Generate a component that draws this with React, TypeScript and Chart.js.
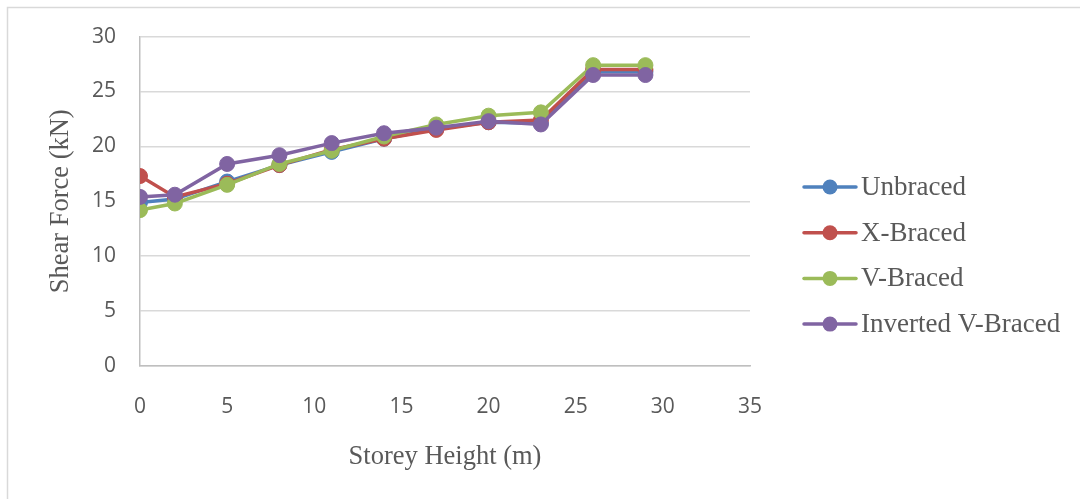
import React, { useEffect, useRef } from "react";
import { Chart, registerables } from "chart.js";

Chart.register(...registerables);

// Storey heights (m) and shear force (kN) for each bracing system
const storeyHeights = [0, 2, 5, 8, 11, 14, 17, 20, 23, 26, 29];
const unbraced = [14.9, 15.2, 16.8, 18.3, 19.5, 20.7, 21.6, 22.2, 22.1, 26.8, 26.8];
const xBraced = [17.3, 15.4, 16.6, 18.3, 19.7, 20.7, 21.5, 22.2, 22.4, 27.0, 27.0];
const vBraced = [14.2, 14.8, 16.5, 18.4, 19.6, 20.9, 22.0, 22.8, 23.1, 27.4, 27.4];
const invertedVBraced = [15.4, 15.6, 18.4, 19.2, 20.3, 21.2, 21.7, 22.3, 22.0, 26.5, 26.5];

const seriesNames = ["Unbraced", "X-Braced", "V-Braced", "Inverted V-Braced"];
const seriesColors = ["#4f81bd", "#c0504d", "#9bbb59", "#8064a2"];
const seriesValues = [unbraced, xBraced, vBraced, invertedVBraced];

const xTickValues = [0, 5, 10, 15, 20, 25, 30, 35];
const yTickValues = [0, 5, 10, 15, 20, 25, 30];

const textColor = "#595959";
const serif = "'Liberation Serif', 'Times New Roman', serif";
const sans = "'Open Sans', 'Noto Sans', sans-serif";

// Light frame around the whole chart
const framePlugin = {
  id: "frame",
  beforeDraw(chart: any) {
    const { ctx, width, height } = chart;
    ctx.save();
    ctx.strokeStyle = "#d9d9d9";
    ctx.lineWidth = 1.5;
    ctx.beginPath();
    ctx.moveTo(7.5, height);
    ctx.lineTo(7.5, 7.5);
    ctx.lineTo(width, 7.5);
    ctx.stroke();
    ctx.restore();
  },
};

// Legend with a line-and-marker swatch per series
const lineLegendPlugin = {
  id: "lineLegend",
  afterDraw(chart: any) {
    const { ctx } = chart;
    const datasets = chart.data.datasets;
    const startY = 187;
    const step = 45.7;
    ctx.save();
    datasets.forEach((ds: any, i: number) => {
      const y = startY + i * step;
      ctx.strokeStyle = ds.borderColor;
      ctx.lineWidth = 3.5;
      ctx.lineCap = "round";
      ctx.beginPath();
      ctx.moveTo(804, y);
      ctx.lineTo(856, y);
      ctx.stroke();
      ctx.fillStyle = ds.borderColor;
      ctx.beginPath();
      ctx.arc(830, y, 7.5, 0, Math.PI * 2);
      ctx.fill();
      ctx.fillStyle = textColor;
      ctx.font = `27px ${serif}`;
      ctx.textBaseline = "middle";
      ctx.textAlign = "left";
      ctx.fillText(ds.label, 861, y + 1);
    });
    ctx.restore();
  },
};

export default function App() {
  const canvasRef = useRef<HTMLCanvasElement | null>(null);

  useEffect(() => {
    if (!canvasRef.current) return;
    const datasets = seriesNames.map((name, i) => ({
      label: name,
      data: storeyHeights.map((h, j) => ({ x: h, y: seriesValues[i][j] })),
      borderColor: seriesColors[i],
      backgroundColor: seriesColors[i],
      pointBackgroundColor: seriesColors[i],
      pointBorderColor: seriesColors[i],
      borderWidth: 3.5,
      pointRadius: 7.5,
      pointBorderWidth: 1,
      pointHoverRadius: 7.5,
      tension: 0,
      order: seriesNames.length - i,
    }));

    const chart = new Chart(canvasRef.current, {
      type: "line",
      data: { datasets },
      plugins: [framePlugin, lineLegendPlugin],
      options: {
        animation: false,
        responsive: false,
        maintainAspectRatio: false,
        layout: { padding: { top: 36, left: 0, right: 330, bottom: 0 } },
        plugins: {
          legend: { display: false },
          tooltip: { enabled: false },
        },
        scales: {
          x: {
            type: "linear",
            min: 0,
            max: 35,
            afterBuildTicks(scale: any) {
              scale.ticks = xTickValues.map((v) => ({ value: v }));
            },
            afterFit(scale: any) {
              scale.height = 133;
            },
            grid: { display: false, drawTicks: false },
            border: { display: true, color: "#bfbfbf", width: 1.5 },
            ticks: {
              padding: 28,
              color: textColor,
              font: { family: sans, size: 21 },
              maxRotation: 0,
            },
            title: {
              display: true,
              text: "Storey Height (m)",
              color: textColor,
              font: { family: serif, size: 26.5 },
              padding: { top: 0, bottom: 26 },
            },
          },
          y: {
            type: "linear",
            min: 0,
            max: 30,
            afterBuildTicks(scale: any) {
              scale.ticks = yTickValues.map((v) => ({ value: v }));
            },
            afterFit(scale: any) {
              scale.width = 140;
            },
            grid: { color: "#d9d9d9", lineWidth: 1.5, drawTicks: false },
            border: { display: true, color: "#bfbfbf", width: 1.5 },
            ticks: {
              padding: 24,
              color: textColor,
              font: { family: sans, size: 21 },
            },
            title: {
              display: true,
              text: "Shear Force (kN)",
              color: textColor,
              font: { family: serif, size: 26.5 },
              padding: { top: 45, bottom: 0 },
            },
          },
        },
      },
    });
    return () => chart.destroy();
  }, []);

  return (
    <div style={{ position: "absolute", left: 0, top: 0, width: 1080, height: 499, background: "#ffffff" }}>
      <canvas ref={canvasRef} width={1080} height={499} style={{ display: "block" }} />
    </div>
  );
}
